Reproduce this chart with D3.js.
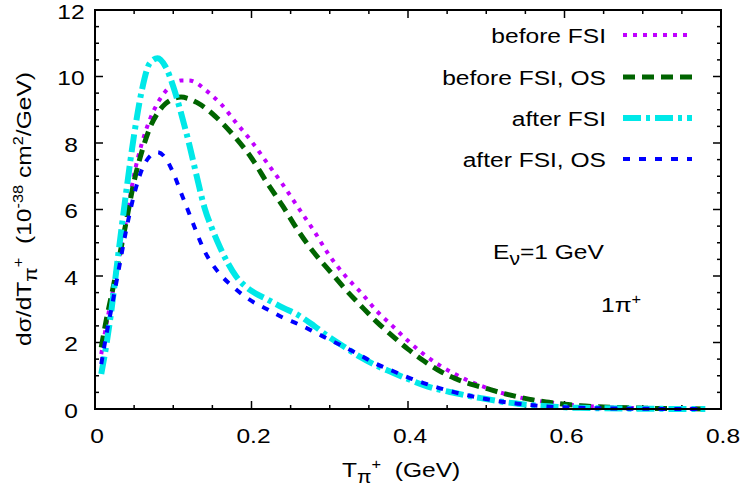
<!DOCTYPE html>
<html>
<head>
<meta charset="utf-8">
<script src="https://cdn.jsdelivr.net/npm/d3@7"></script>
<style>
  body { margin: 0; background: #fff; }
  svg { display: block; }
  text { white-space: pre; }
</style>
</head>
<body>
<svg width="747" height="489"></svg>
<script>
// pion kinetic energy grid (GeV)
var tpi = [0.008,0.015,0.02,0.03,0.04,0.05,0.06,0.07,0.08,0.09,0.10,0.11,0.12,0.13,0.14,0.15,0.16,
  0.18,0.20,0.22,0.24,0.26,0.28,0.30,0.32,0.34,0.36,0.38,0.40,0.42,0.44,0.46,0.48,0.50,0.52,0.54,
  0.56,0.58,0.60,0.62,0.65,0.70,0.75,0.78];

// dsigma/dT (10^-38 cm^2/GeV)
var beforeFSI = [1.65,2.6,3.2,4.4,5.7,7.05,8.0,8.7,9.2,9.55,9.78,9.88,9.88,9.8,9.62,9.42,9.2,
  8.62,8.05,7.4,6.75,6.05,5.35,4.6,4.0,3.5,2.95,2.5,2.05,1.65,1.32,1.05,0.82,0.64,0.48,0.36,
  0.27,0.2,0.14,0.1,0.06,0.025,0.008,0.0];
var beforeFSIOS = [1.85,2.75,3.3,4.45,5.65,6.85,7.75,8.45,8.9,9.18,9.33,9.38,9.33,9.22,9.07,8.88,8.66,
  8.15,7.55,6.8,6.1,5.35,4.7,4.15,3.6,3.1,2.62,2.2,1.8,1.45,1.15,0.92,0.75,0.62,0.48,0.37,
  0.27,0.2,0.14,0.1,0.06,0.025,0.008,0.0];
var afterFSI = [1.05,2.0,2.8,4.7,6.55,8.25,9.6,10.4,10.55,10.3,9.7,8.9,8.0,7.0,6.05,5.4,4.85,
  4.0,3.55,3.3,3.05,2.82,2.5,2.15,1.85,1.55,1.3,1.1,0.9,0.72,0.58,0.48,0.38,0.3,0.22,0.16,
  0.11,0.08,0.05,0.035,0.02,0.008,0.002,0.0];
var afterFSIOS = [1.35,2.3,2.9,4.15,5.4,6.45,7.2,7.6,7.72,7.55,7.1,6.5,5.9,5.3,4.75,4.35,4.05,
  3.6,3.25,3.0,2.75,2.55,2.32,2.08,1.85,1.6,1.35,1.15,0.95,0.78,0.63,0.5,0.39,0.3,0.22,0.16,
  0.11,0.07,0.05,0.035,0.02,0.006,0.002,0.0];

var seriesNames = ["before FSI", "before FSI, OS", "after FSI", "after FSI, OS"];
var seriesValues = [beforeFSI, beforeFSIOS, afterFSI, afterFSIOS];
var seriesColors = ["#c000ff", "#006400", "#00e8e8", "#0000ff"];
var seriesWidths = [4, 5, 6, 4];
var seriesDashes = ["4,6", "12,7", "18,5,4,5", "7,9"];

var xTicks = [0, 0.2, 0.4, 0.6, 0.8];
var yTicks = [0, 2, 4, 6, 8, 10, 12];

var FONT = "'Liberation Sans', Arial, Helvetica, sans-serif";
var SX = 1.17;   // reference glyphs are wider than Liberation Sans

var svg = d3.select("svg"),
    width = +svg.attr("width"),
    height = +svg.attr("height");

var x = d3.scaleLinear().domain([0, 0.8]).range([95, 721]),
    y = d3.scaleLinear().domain([0, 12]).range([409, 10]);

// text with sub/superscripts: parts = [[str, kind]], kind 0 normal, 1 sub, 2 sup
function richText(parts, tx, ty, anchor, rot) {
  var t = svg.append("text")
      .attr("transform", "translate(" + tx + "," + ty + ")" + (rot ? " rotate(" + rot + ")" : "") + " scale(" + SX + ",1)")
      .attr("text-anchor", anchor)
      .attr("font-family", FONT)
      .attr("font-size", 21)
      .attr("fill", "#000");
  var cur = 0;
  parts.forEach(function(p) {
    var target = p[1] == 1 ? 6 : (p[1] == 2 ? -8 : 0);
    t.append("tspan")
        .attr("dy", target - cur)
        .attr("font-size", p[1] == 1 ? 18 : (p[1] == 2 ? 14 : 21))
        .text(p[0]);
    cur = target;
  });
  return t;
}

// ticks (mirrored, pointing inward)
var xMinor = d3.range(0, 0.8001, 0.05), yMinor = d3.range(0, 12.001, 0.5);
var tk = svg.append("g").attr("stroke", "#000").attr("stroke-width", 1.5);
xMinor.forEach(function(v) {
  var major = Math.abs(v / 0.2 - Math.round(v / 0.2)) < 1e-6, L = major ? 8 : 4;
  tk.append("line").attr("x1", x(v)).attr("x2", x(v)).attr("y1", y(0)).attr("y2", y(0) - L);
  tk.append("line").attr("x1", x(v)).attr("x2", x(v)).attr("y1", y(12)).attr("y2", y(12) + L);
});
yMinor.forEach(function(v) {
  var major = Math.abs(v / 2 - Math.round(v / 2)) < 1e-6, L = major ? 8 : 4;
  tk.append("line").attr("x1", x(0)).attr("x2", x(0) + L).attr("y1", y(v)).attr("y2", y(v));
  tk.append("line").attr("x1", x(0.8)).attr("x2", x(0.8) - L).attr("y1", y(v)).attr("y2", y(v));
});

// tick labels
xTicks.forEach(function(v) {
  richText([[v === 0 ? "0" : d3.format(".1f")(v), 0]], x(v) + 2, 443, "middle");
});
yTicks.forEach(function(v) {
  richText([[String(v), 0]], 71, y(v) + 8.5, "middle");
});

// curves
var line = d3.line()
    .x(function(d) { return x(d[0]); })
    .y(function(d) { return y(d[1]); })
    .curve(d3.curveMonotoneX);

seriesValues.forEach(function(vals, i) {
  svg.append("path")
      .datum(tpi.map(function(t, j) { return [t, vals[j]]; }))
      .attr("d", line)
      .attr("fill", "none")
      .attr("stroke", seriesColors[i])
      .attr("stroke-width", seriesWidths[i])
      .attr("stroke-dasharray", seriesDashes[i]);
});

// frame
svg.append("rect")
    .attr("x", x(0)).attr("y", y(12))
    .attr("width", x(0.8) - x(0)).attr("height", y(0) - y(12))
    .attr("fill", "none").attr("stroke", "#000").attr("stroke-width", 2);

// legend
var legendY = [35, 77, 118, 159];
seriesNames.forEach(function(name, i) {
  richText([[name, 0]], 606, legendY[i] + 7.5, "end");
  svg.append("line")
      .attr("x1", 623).attr("x2", 692)
      .attr("y1", legendY[i]).attr("y2", legendY[i])
      .attr("stroke", seriesColors[i])
      .attr("stroke-width", seriesWidths[i])
      .attr("stroke-dasharray", seriesDashes[i]);
});

// annotations
richText([["E", 0], ["\u03bd", 1], ["=1 GeV", 0]], 493, 259, "start");
richText([["1\u03c0", 0], ["+", 2]], 601, 312, "start");

// axis titles
richText([["T", 0], ["\u03c0", 1], ["+", 2], ["  (GeV)", 0]], 342, 477, "start");
richText([["d\u03c3/dT", 0], ["\u03c0", 1], ["+", 2], ["  (10", 0], ["-38", 2], [" cm", 0], ["2", 2], ["/GeV)", 0]],
    31, 209, "middle", -90);
</script>
</body>
</html>
